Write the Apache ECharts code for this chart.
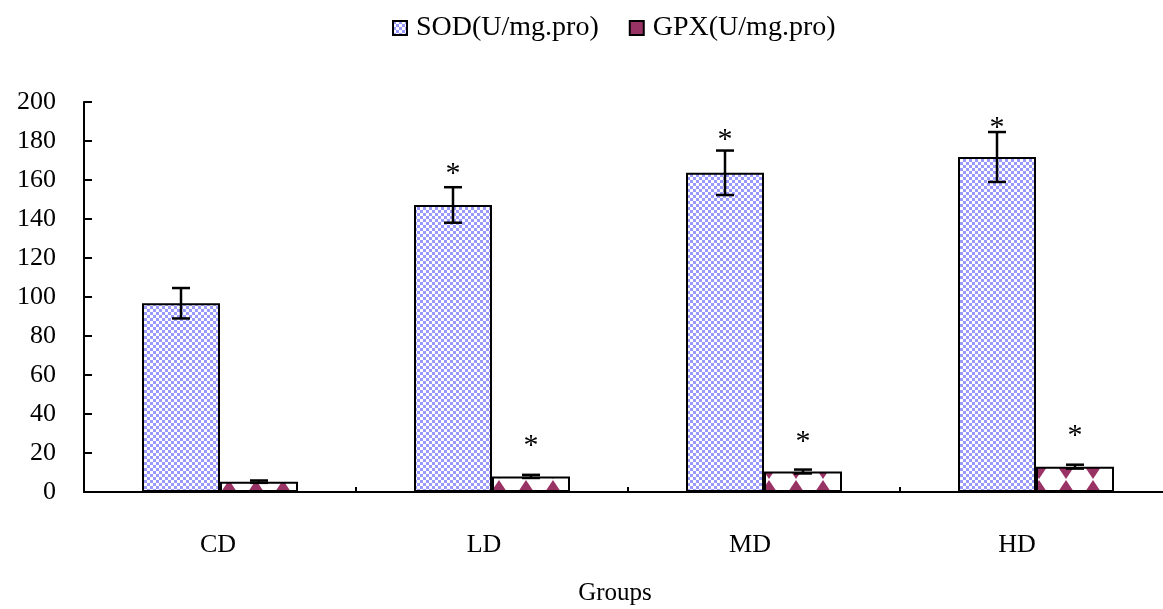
<!DOCTYPE html>
<html>
<head>
<meta charset="utf-8">
<script src="https://cdn.jsdelivr.net/npm/echarts@6/dist/echarts.min.js"></script>
<style>html,body{margin:0;padding:0;background:#fff}#c{width:1163px;height:609px}</style>
</head>
<body>
<div id="c"></div>
<script>
const categories = ['CD', 'LD', 'MD', 'HD'];
const sodValues = [96.8, 147.2, 163.7, 171.8];
const sodErrors = [7.8, 9.1, 11.4, 12.8];
const gpxValues = [5.3, 8.0, 10.5, 13.0];
const gpxErrors = [0.6, 0.8, 1.0, 1.0];
const sodStarY = [null, 166.5, 184, 190];
const gpxStarY = [null, 27, 29, 32];
const yTicks = { min: 0, max: 200, interval: 20 };

function makeSodPattern() {
  const c = document.createElement('canvas');
  c.width = 6; c.height = 6;
  const g = c.getContext('2d');
  g.fillStyle = '#ffffff'; g.fillRect(0, 0, 6, 6);
  g.fillStyle = '#9999ff';
  g.fillRect(0, 0, 3, 3); g.fillRect(3, 3, 3, 3);
  return { image: c, repeat: 'repeat' };
}
function makeGpxPattern() {
  const W = 27, H = 25;
  const c = document.createElement('canvas');
  c.width = W; c.height = H;
  const g = c.getContext('2d');
  g.fillStyle = '#ffffff'; g.fillRect(0, 0, W, H);
  g.fillStyle = '#993366';
  const cx = 13, cy = 17, hw = 8, hh = 12;
  g.beginPath();
  g.moveTo(cx - hw, cy); g.lineTo(cx, cy - hh); g.lineTo(cx + hw, cy); g.closePath(); g.fill();
  for (const off of [0, -H]) {
    g.beginPath();
    g.moveTo(cx - hw, cy + off); g.lineTo(cx, cy + hh + off); g.lineTo(cx + hw, cy + off); g.closePath(); g.fill();
  }
  return { image: c, repeat: 'repeat' };
}

const serif = 'Liberation Serif';
const fs = 26;
const barW = 78;

function errRender(offset) {
  return function (params, api) {
    const i = api.value(0), v = api.value(1), e = api.value(2), s = api.value(3);
    const top = api.coord([i, v + e]);
    const bot = api.coord([i, v - e]);
    const x = top[0] + offset;
    const ls = { stroke: '#000', lineWidth: 2.5 };
    const children = [
      { type: 'line', shape: { x1: x, y1: top[1], x2: x, y2: bot[1] }, style: ls },
      { type: 'line', shape: { x1: x - 9, y1: top[1], x2: x + 9, y2: top[1] }, style: ls },
      { type: 'line', shape: { x1: x - 9, y1: bot[1], x2: x + 9, y2: bot[1] }, style: ls }
    ];
    if (s != null && !isNaN(s)) {
      const p = api.coord([i, s]);
      children.push({ type: 'text', style: { text: '*', x: x, y: p[1] + 7, fill: '#000', font: '30px "Liberation Serif"', align: 'center', verticalAlign: 'middle' } });
    }
    return { type: 'group', children: children };
  };
}

const labelShift = [2, 8, 14, 19];
const rich = {};
labelShift.forEach((d, i) => { rich['l' + i] = { fontFamily: serif, fontSize: fs, color: '#000', padding: [0, 2 * d, 0, 0] }; });

const chart = echarts.init(document.getElementById('c'));
chart.setOption({
  animation: false,
  backgroundColor: '#fff',
  legend: {
    data: [
      { name: 'SOD(U/mg.pro)' },
      { name: 'GPX(U/mg.pro)', itemStyle: { color: '#993366', borderColor: '#000', borderWidth: 2 } }
    ],
    left: 387, top: 9,
    itemWidth: 14, itemHeight: 14, itemGap: 30,
    icon: 'rect',
    textStyle: { fontFamily: serif, fontSize: 28, color: '#000', padding: [0, 0, 0, 4] }
  },
  grid: { left: 84, top: 102, width: 1088, height: 390, outerBoundsMode: 'none', containLabel: false },
  xAxis: {
    type: 'category',
    data: categories,
    axisLine: { lineStyle: { color: '#000', width: 2 } },
    axisTick: { show: true, inside: true, length: 5, lineStyle: { color: '#000', width: 2 } },
    axisLabel: {
      margin: 40,
      formatter: function (v, i) { return '{l' + i + '|' + v + '}'; },
      rich: rich
    },
    name: 'Groups',
    nameLocation: 'middle',
    nameGap: 89,
    nameTextStyle: { fontFamily: serif, fontSize: 25, color: '#000', padding: [0, 26, 0, 0] }
  },
  yAxis: {
    type: 'value',
    min: yTicks.min, max: yTicks.max, interval: yTicks.interval,
    axisLine: { show: true, lineStyle: { color: '#000', width: 2 } },
    axisTick: { show: true, inside: true, length: 8, lineStyle: { color: '#000', width: 2 } },
    splitLine: { show: false },
    axisLabel: { fontFamily: serif, fontSize: fs, color: '#000', margin: 28 }
  },
  series: [
    {
      name: 'SOD(U/mg.pro)', type: 'bar', data: sodValues,
      barWidth: barW, barGap: '0%',
      itemStyle: { color: makeSodPattern(), borderColor: '#000', borderWidth: 2 }
    },
    {
      name: 'GPX(U/mg.pro)', type: 'bar', data: gpxValues,
      barWidth: barW, barGap: '0%',
      itemStyle: { color: makeGpxPattern(), borderColor: '#000', borderWidth: 2 }
    },
    {
      type: 'custom', name: 'sodErr', z: 5,
      renderItem: errRender(-barW / 2),
      data: categories.map((c, i) => [i, sodValues[i], sodErrors[i], sodStarY[i]])
    },
    {
      type: 'custom', name: 'gpxErr', z: 5,
      renderItem: errRender(barW / 2),
      data: categories.map((c, i) => [i, gpxValues[i], gpxErrors[i], gpxStarY[i]])
    }
  ]
});
</script>
</body>
</html>
